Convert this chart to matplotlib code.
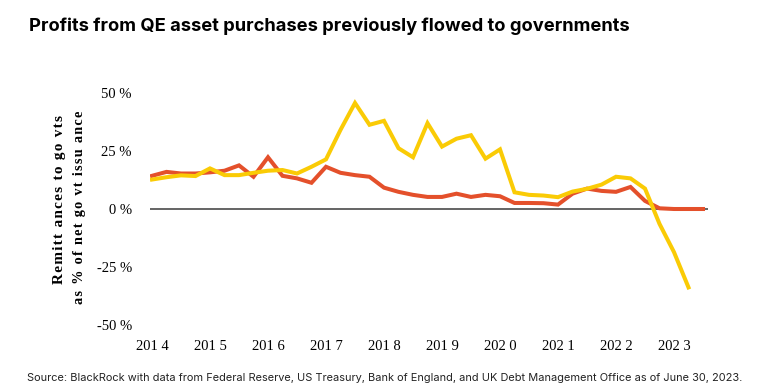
import numpy as np
import matplotlib
matplotlib.use("Agg")
import matplotlib.pyplot as plt

# quarterly values, starting 2014 Q1
quarters = np.arange(2014, 2023.6, 0.25)

fed_boe = [14.3, 16.0, 15.3, 15.3, 15.8, 16.5, 18.8, 13.9, 22.3, 14.3,
           13.2, 11.3, 18.2, 15.6, 14.6, 13.9, 9.2, 7.4, 6.1, 5.2,
           5.2, 6.6, 5.2, 6.1, 5.5, 2.6, 2.6, 2.5, 1.9, 6.6,
           8.8, 7.8, 7.4, 9.5, 3.5, 0.3, 0.0, 0.0, 0.0]
other = [12.7, 13.7, 14.5, 14.2, 17.5, 14.6, 14.6, 15.6, 16.5, 16.8,
         15.3, 18.2, 21.4, 34.1, 45.7, 36.3, 38.0, 26.2, 22.3, 37.0,
         26.9, 30.3, 31.8, 21.7, 25.7, 7.2, 6.1, 5.8, 5.1, 7.5,
         8.7, 10.5, 13.9, 13.2, 8.8, -6.4, -18.6, -33.8]

year_ticks = list(range(2014, 2024))
year_labels = ["201 4", "201 5", "201 6", "201 7", "201 8", "201 9",
               "202 0", "202 1", "202 2", "202 3"]
y_ticks = [-50, -25, 0, 25, 50]
y_labels = ["-50 %", "-25 %", "0 %", "25 %", "50 %"]
ylabel_lines = ["Remitt ances to go vts", "as % of net go vt issu ance"]


def spaced(s):
    # the source renders the axis title with loose letter spacing
    return "\u200a".join(s)


W, H = 758, 392
fig = plt.figure(figsize=(W / 100, H / 100), dpi=100)
ax = fig.add_axes([150 / W, 1 - 325 / H, 558 / W, 232 / H])

ax.axhline(0, color="#3a3a3a", lw=1.1, zorder=1)
ax.plot(quarters[:len(fed_boe)], fed_boe, color="#E4502B", lw=2.9,
        solid_joinstyle="miter", zorder=2)
ax.plot(quarters[:len(other)], other, color="#FACB05", lw=2.9,
        solid_joinstyle="miter", zorder=3)

ax.set_xlim(2014 - 2 / 58, 2014 + (708 - 152) / 58)
ax.set_ylim(-50, 50)
for s in ax.spines.values():
    s.set_visible(False)

serif = ["Liberation Serif", "DejaVu Serif"]
ax.set_xticks(year_ticks)
ax.set_xticklabels(year_labels, family=serif, fontsize=10.5)
ax.set_yticks(y_ticks)
ax.set_yticklabels(y_labels, family=serif, fontsize=10.5)
ax.tick_params(axis="x", length=0, pad=11)
ax.tick_params(axis="y", length=0, pad=13)

fig.text(60 / W, 1 - 200 / H, spaced(ylabel_lines[0]), rotation=90,
         ha="center", va="center", family=serif, fontweight="bold", fontsize=11)
fig.text(80 / W, 1 - 207 / H, spaced(ylabel_lines[1]), rotation=90,
         ha="center", va="center", family=serif, fontweight="bold", fontsize=10.3)

fig.text(29 / W, 1 - 26 / H,
         "Profits from QE asset purchases previously flowed to governments",
         ha="left", va="center", family="Inter", fontweight="bold", fontsize=13.2)
fig.text(27 / W, 1 - 378 / H,
         "Source: BlackRock with data from Federal Reserve, US Treasury, Bank of England, "
         "and UK Debt Management Office as of June 30, 2023.",
         ha="left", va="center", family="Inter", fontsize=7.9, color="#222222")

fig.savefig("out.png", dpi=100)
